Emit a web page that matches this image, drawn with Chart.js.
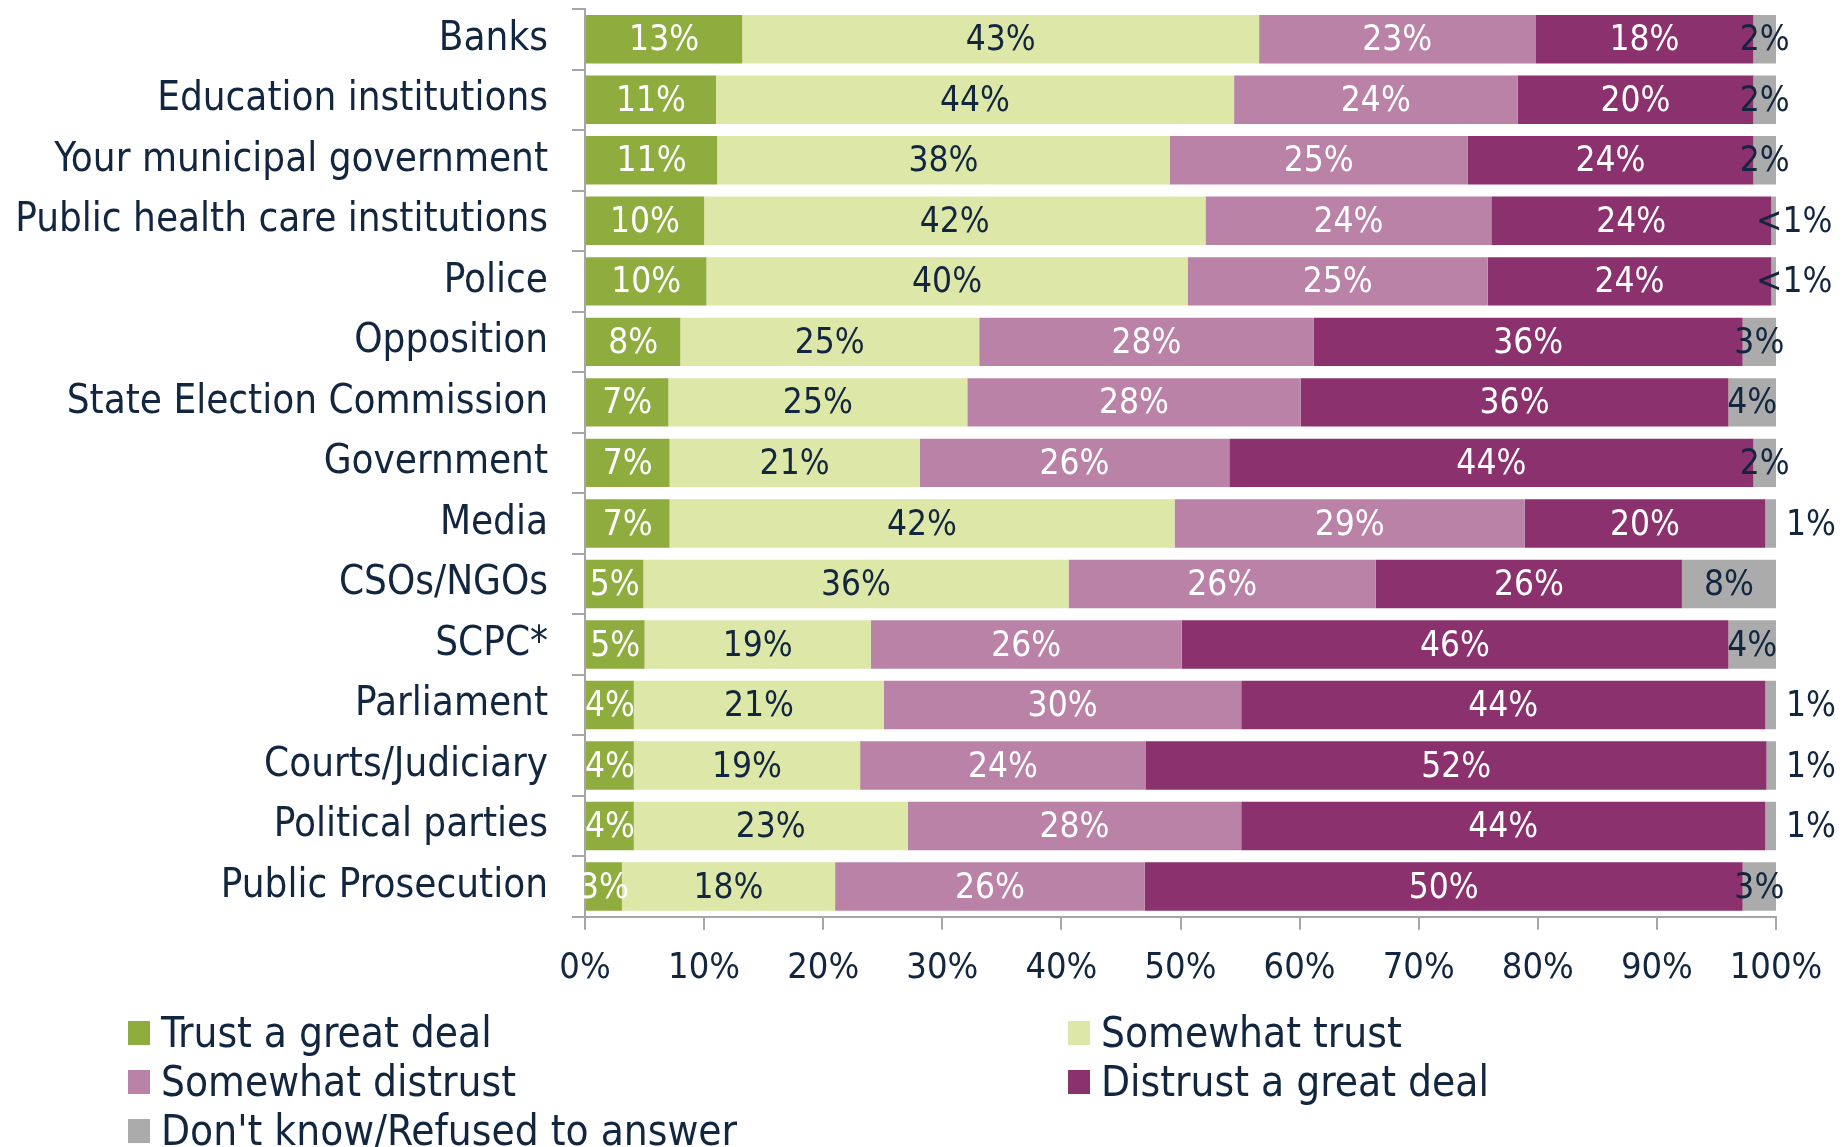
<!DOCTYPE html>
<html>
<head>
<meta charset="utf-8">
<script src="https://cdn.jsdelivr.net/npm/chart.js@4.4.1/dist/chart.umd.min.js"></script>
<style>
    body { margin: 0; background: #fff; }
    #page { position: relative; width: 1845px; height: 1147px; overflow: hidden; }
    #chartBox { position: absolute; left: 0; top: -39px; width: 1845px; height: 1186px; }
    #legend {
        position: absolute; left: 128px; top: 1008px;
        display: grid; grid-template-columns: 940px 600px; grid-auto-rows: 49px;
        font-family: 'DejaVu Sans Condensed', 'DejaVu Sans', sans-serif; font-size: 42px; color: #12263f;
    }
    .item { display: flex; align-items: center; white-space: nowrap; }
    .swatch { width: 22px; height: 24px; margin-right: 11px; flex: none; }
</style>
</head>
<body>
<div id="page">
    <div id="chartBox"><canvas id="trustBar"></canvas></div>
    <div id="legend"></div>
</div>
<script>
const institutions = [
    'Banks', 'Education institutions', 'Your municipal government', 'Public health care institutions',
    'Police', 'Opposition', 'State Election Commission', 'Government', 'Media', 'CSOs/NGOs',
    'SCPC*', 'Parliament', 'Courts/Judiciary', 'Political parties', 'Public Prosecution'
];
const seriesNames = ['Trust a great deal', 'Somewhat trust', 'Somewhat distrust', 'Distrust a great deal', "Don't know/Refused to answer"];
const trustGreat = [13.2, 11.0, 11.1, 10.0, 10.2, 8.0, 7.0, 7.1, 7.1, 4.9, 5.0, 4.1, 4.1, 4.1, 3.1];
const trustSome = [43.4, 43.5, 38.0, 42.1, 40.4, 25.1, 25.1, 21.0, 42.4, 35.7, 19.0, 21.0, 19.0, 23.0, 17.9];
const distrustSome = [23.2, 23.8, 25.0, 24.0, 25.2, 28.1, 28.0, 26.0, 29.4, 25.8, 26.1, 30.0, 24.0, 28.0, 26.0];
const distrustGreat = [18.3, 19.8, 24.0, 23.5, 23.8, 36.0, 35.9, 44.0, 20.2, 25.7, 45.9, 44.0, 52.1, 44.0, 50.2];
const dontKnow = [1.9, 1.9, 1.9, 0.4, 0.4, 2.8, 4.0, 1.9, 0.9, 7.9, 4.0, 0.9, 0.9, 0.9, 2.8];
const xTicks = [0, 10, 20, 30, 40, 50, 60, 70, 80, 90, 100];

const colors = ['#8fad3f', '#dce7a8', '#bb82a8', '#8b316d', '#ababab'];
const labelColors = ['#ffffff', '#12263f', '#ffffff', '#ffffff', '#12263f'];
const navy = '#12263f';
const fontFamily = "'DejaVu Sans Condensed', 'DejaVu Sans', sans-serif";

function pctLabel(v) {
    if (v < 0.5) return '<1%';
    return Math.round(v) + '%';
}

// draws the % inside each segment
const segmentLabels = {
    id: 'segmentLabels',
    afterDatasetsDraw(chart) {
        const ctx = chart.ctx;
        ctx.save();
        ctx.font = '35px ' + fontFamily;
        ctx.textBaseline = 'middle';
        chart.data.datasets.forEach((ds, di) => {
            const meta = chart.getDatasetMeta(di);
            meta.data.forEach((bar, i) => {
                const v = ds.data[i];
                const text = pctLabel(v);
                ctx.fillStyle = labelColors[di];
                let x = (bar.x + bar.base) / 2;
                ctx.textAlign = 'center';
                if (di === 4 && v < 1.5) {
                    // tiny grey slices: label sits just past the bar end
                    ctx.fillStyle = navy;
                    ctx.textAlign = 'left';
                    x = chart.chartArea.right + (v < 0.5 ? -20 : 10);
                }
                ctx.fillText(text, x, bar.y + 2);
            });
        });
        ctx.restore();
    }
};

const data = {
    labels: institutions,
    datasets: [trustGreat, trustSome, distrustSome, distrustGreat, dontKnow].map((vals, i) => ({
        label: seriesNames[i],
        data: vals,
        backgroundColor: colors[i],
        borderWidth: 0,
        barPercentage: 0.8,
        categoryPercentage: 1
    }))
};

const config = {
    type: 'bar',
    data: data,
    options: {
        indexAxis: 'y',
        animation: false,
        responsive: true,
        maintainAspectRatio: false,
        layout: { padding: { top: 0, right: 69, bottom: 140, left: 0 } },
        plugins: {
            legend: { display: false },
            tooltip: { enabled: false }
        },
        scales: {
            x: {
                stacked: true,
                min: 0,
                max: 100,
                afterBuildTicks: axis => { axis.ticks = xTicks.map(v => ({ value: v })); },
                grid: { drawOnChartArea: false, tickLength: 13, color: '#a6a6a6', lineWidth: 2 },
                border: { color: '#a6a6a6', width: 2 },
                ticks: {
                    padding: 17,
                    color: navy,
                    font: { size: 36, family: fontFamily },
                    callback: v => v + '%'
                }
            },
            y: {
                stacked: true,
                afterFit: axis => { axis.width = 585; },
                grid: { drawOnChartArea: false, tickLength: 13, color: '#a6a6a6', lineWidth: 2 },
                border: { color: '#a6a6a6', width: 2 },
                ticks: {
                    padding: 24,
                    color: navy,
                    font: { size: 40, family: fontFamily }
                }
            }
        }
    },
    plugins: [segmentLabels]
};

const myChart = new Chart(document.getElementById('trustBar'), config);

// legend in two columns
const legendBox = document.getElementById('legend');
seriesNames.forEach((name, i) => {
    const item = document.createElement('div');
    item.className = 'item';
    const sw = document.createElement('span');
    sw.className = 'swatch';
    sw.style.background = colors[i];
    item.appendChild(sw);
    item.appendChild(document.createTextNode(name));
    legendBox.appendChild(item);
});
</script>
</body>
</html>
